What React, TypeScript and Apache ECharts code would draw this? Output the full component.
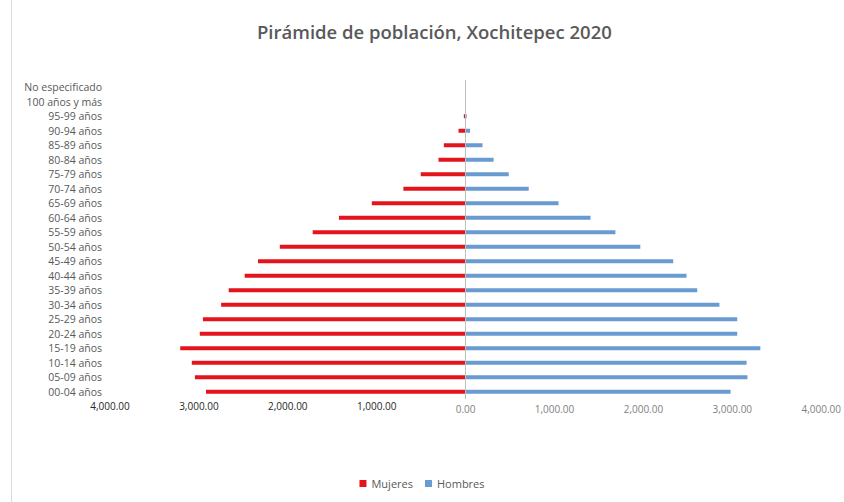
import React, { useEffect, useRef } from "react";
import * as echarts from "echarts";

const categories = [
  "00-04 años", "05-09 años", "10-14 años", "15-19 años", "20-24 años", "25-29 años",
  "30-34 años", "35-39 años", "40-44 años", "45-49 años", "50-54 años", "55-59 años",
  "60-64 años", "65-69 años", "70-74 años", "75-79 años", "80-84 años", "85-89 años",
  "90-94 años", "95-99 años", "100 años y más", "No especificado",
];

const mujeres = [
  2920, 3045, 3080, 3210, 2990, 2955, 2750, 2665, 2485, 2335, 2090, 1720,
  1425, 1055, 700, 505, 305, 245, 80, 20, 3, 1,
];

const hombres = [
  2980, 3170, 3160, 3315, 3055, 3055, 2855, 2605, 2485, 2335, 1965, 1685,
  1405, 1045, 710, 485, 315, 190, 50, 12, 2, 1,
];

const xTicks = [-4000, -3000, -2000, -1000, 0, 1000, 2000, 3000, 4000];

export default function App() {
  const ref = useRef<HTMLDivElement>(null);
  useEffect(() => {
    if (!ref.current) return;
    const chart = echarts.init(ref.current, null, { renderer: "svg" });
    const fmt = (v: number) =>
      Math.abs(v).toLocaleString("en-US", { minimumFractionDigits: 2, maximumFractionDigits: 2 });
    chart.setOption({
      animation: false,
      backgroundColor: "#ffffff",
      title: {
        text: "Pirámide de población, Xochitepec 2020",
        left: 252,
        top: 17,
        textStyle: { fontFamily: "Open Sans", fontSize: 18.5, fontWeight: 600, color: "#595959" },
      },
      graphic: [
        {
          type: "line",
          shape: { x1: 11.5, y1: 0, x2: 11.5, y2: 502 },
          style: { stroke: "#d9d9d9", lineWidth: 1 },
        },
      ],
      legend: {
        data: ["Mujeres", "Hombres"],
        bottom: 8,
        left: "center",
        icon: "rect",
        itemWidth: 7,
        itemHeight: 7,
        itemGap: 12,
        textStyle: { fontFamily: "Open Sans", fontSize: 11, color: "#595959" },
      },
      grid: { left: 110, right: 22, top: 80, bottom: 103, containLabel: false },
      xAxis: {
        type: "value",
        min: xTicks[0],
        max: xTicks[xTicks.length - 1],
        interval: 1000,
        axisLine: { show: false },
        axisTick: { show: false },
        splitLine: { show: false },
        axisLabel: {
          margin: 2,
          formatter: (v: number) => (v < 0 ? "{d|" + fmt(v) + "}" : "{l|" + fmt(v) + "}"),
          rich: {
            d: { fontFamily: "Open Sans", fontSize: 10, color: "#262626" },
            l: { fontFamily: "Open Sans", fontSize: 10, color: "#7f7f7f", padding: [3, 0, 0, 0] },
          },
        },
      },
      yAxis: {
        type: "category",
        data: categories,
        axisLine: { show: false, onZero: false },
        axisTick: { show: false },
        axisLabel: {
          margin: 8,
          fontFamily: "Open Sans",
          fontSize: 10.5,
          color: "#595959",
        },
      },
      series: [
        {
          name: "Mujeres",
          type: "bar",
          stack: "total",
          barWidth: 4,
          data: mujeres.map((v) => -v),
          itemStyle: { color: "#e3141c" },
          markLine: {
            silent: true,
            symbol: "none",
            label: { show: false },
            lineStyle: { color: "#bfbfbf", type: "solid", width: 1 },
            data: [{ xAxis: 0 }],
          },
        },
        {
          name: "Hombres",
          type: "bar",
          stack: "total",
          barWidth: 4,
          data: hombres,
          itemStyle: { color: "#6a9bd0" },
        },
      ],
    });
    return () => chart.dispose();
  }, []);
  return (
    <div
      ref={ref}
      style={{ position: "fixed", left: 0, top: 0, width: 844, height: 502 }}
    />
  );
}
